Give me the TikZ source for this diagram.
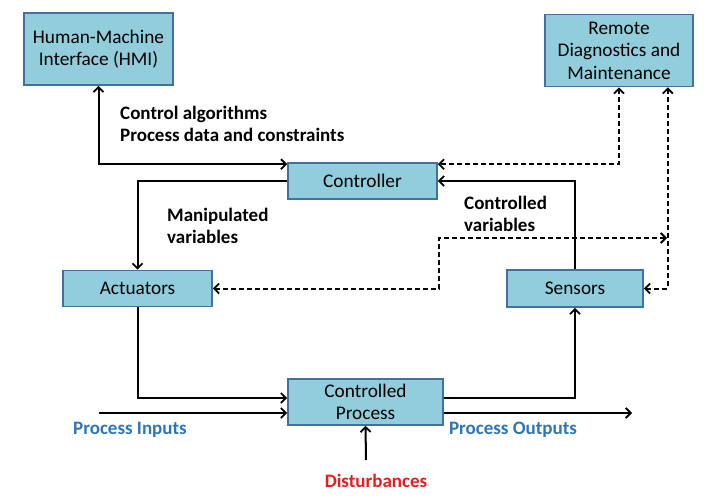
\documentclass[tikz,border=0pt]{standalone}
\usepackage{fontspec}
\setmainfont{Carlito}
\usetikzlibrary{arrows.meta,calc}
\definecolor{boxfill}{RGB}{146,205,220}
\definecolor{boxdraw}{RGB}{65,113,156}
\definecolor{lblue}{RGB}{46,117,182}
\definecolor{lred}{RGB}{226,30,30}
\tikzset{
  blk/.style={draw=boxdraw,fill=boxfill,line width=1.6pt,inner sep=0pt,align=center,font=\fontsize{19.3}{22.5}\selectfont},
  tip/.tip={Straight Barb[length=5pt,width=10pt,line width=1.8pt]},
  conn/.style={line width=2pt,-tip},
  bconn/.style={line width=2pt,tip-tip},
  dconn/.style={bconn,dash pattern=on 5pt off 3pt},
  lbl/.style={font=\bfseries\fontsize{19}{22}\selectfont,align=left,inner sep=0pt,anchor=west},
  io/.style={font=\bfseries\fontsize{19}{22}\selectfont,inner sep=0pt}
}
\begin{document}
\begin{tikzpicture}[x=1pt,y=-1pt]
\useasboundingbox (0,0) rectangle (711,503);
\node[blk,minimum width=149pt,minimum height=72pt] (hmi) at (98.5,49) {Human-Machine\\Interface (HMI)};
\node[blk,minimum width=148pt,minimum height=72pt] (remote) at (619,50.5) {Remote\\Diagnostics and\\Maintenance};
\node[blk,minimum width=149pt,minimum height=36pt] (ctrl) at (362.5,181) {Controller};
\node[blk,minimum width=149pt,minimum height=36pt] (act) at (137.5,288.5) {Actuators};
\node[blk,minimum width=136pt,minimum height=37pt] (sens) at (575,288.5) {Sensors};
\node[blk,minimum width=155pt,minimum height=46pt] (proc) at (365.5,402) {Controlled\\Process};

\node[lbl] (l1) at (120,124) {Control algorithms\\Process data and constraints};
\node[lbl] (l2) at (167,226) {Manipulated\\variables};
\node[lbl] (l3) at (464,214) {Controlled\\variables};
\node[io,text=lblue] (pin) at (130,430) {Process Inputs};
\node[io,text=lblue] (pout) at (513,430) {Process Outputs};
\node[io,text=lred] (dist) at (376,481) {Disturbances};

\coordinate (inS) at (99,413);
\coordinate (outE) at (632,413);
\coordinate (distS) at (366,460);
\coordinate (rR) at ($(remote.south east)+(-26,0)$);
\coordinate (jA) at (439,238);
\coordinate (jB) at (667,238);

\draw[bconn] (hmi.south) |- ($(ctrl.north west)+(0,2)$);
\draw[conn] (ctrl.west) -| (act.north);
\draw[conn] (sens.north) |- (ctrl.east);
\draw[conn] (act.south) |- ($(proc.west)+(0,-4)$);
\draw[conn] ($(proc.east)+(0,-4)$) -| (sens.south);
\draw[conn] (inS) -- (inS -| proc.west);
\draw[conn] (outE -| proc.east) -- (outE);
\draw[conn] (distS) -- (proc.south);
\draw[dconn] (remote.south) |- ($(ctrl.north east)+(0,2)$);
\draw[dconn] (rR) |- (sens.east);
\draw[dconn] (act.east) -| (jA) -- (jB);
\end{tikzpicture}
\end{document}
